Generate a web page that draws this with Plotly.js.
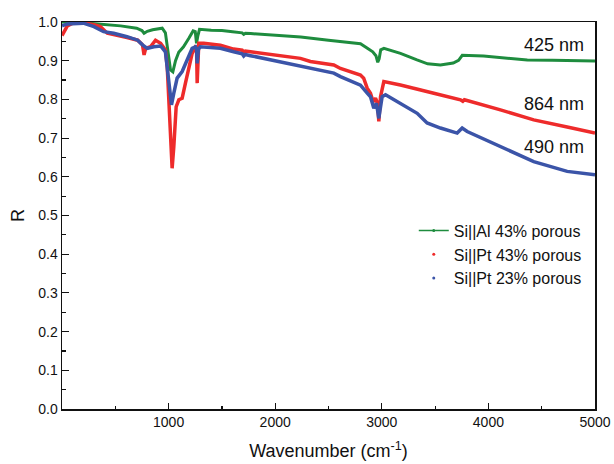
<!DOCTYPE html>
<html>
<head>
<meta charset="utf-8">
<script src="https://cdn.plot.ly/plotly-3.0.1.min.js"></script>
<style>html,body{margin:0;padding:0;background:#fff;}#chart{width:614px;height:464px;}</style>
</head>
<body>
<div id="chart"></div>
<script>
// Si||Al 43% porous (425 nm)
const alX = [0,100,250,400,550,700,750,770,800,850,900,940,970,995,1018,1040,1065,1095,1140,1190,1230,1250,1262,1275,1290,1400,1500,1600,1690,1705,1720,1770,2000,2240,2500,2700,2800,2865,2915,2945,2962,2975,2990,3020,3175,3330,3430,3550,3670,3720,3755,3955,4200,4365,4600,4800,5000];
const alY = [1.0,1.0,0.997,0.994,0.99,0.984,0.978,0.971,0.976,0.98,0.982,0.984,0.972,0.928,0.876,0.871,0.90,0.922,0.936,0.958,0.977,0.975,0.945,0.965,0.981,0.979,0.978,0.975,0.972,0.968,0.971,0.970,0.966,0.961,0.953,0.946,0.944,0.932,0.923,0.913,0.896,0.905,0.928,0.932,0.919,0.902,0.892,0.889,0.894,0.901,0.914,0.912,0.907,0.902,0.901,0.900,0.899];

// Si||Pt 43% porous (864 nm)
const pt43X = [0,20,50,100,200,300,360,425,520,610,710,755,770,785,830,877,925,970,987,1002,1018,1033,1049,1071,1096,1127,1158,1190,1221,1252,1262,1268,1275,1283,1330,1486,1610,1690,1705,1720,1768,1925,2115,2237,2330,2550,2612,2800,2830,2863,2894,2919,2941,2960,2972,2988,3019,3175,3488,3738,3760,3775,4113,4425,4750,5000];
const pt43Y = [0.965,0.975,0.99,0.997,0.998,0.993,0.988,0.971,0.966,0.96,0.953,0.941,0.915,0.932,0.936,0.953,0.945,0.928,0.885,0.799,0.696,0.622,0.678,0.781,0.799,0.803,0.842,0.885,0.919,0.936,0.935,0.842,0.90,0.945,0.945,0.94,0.93,0.927,0.922,0.925,0.923,0.917,0.91,0.906,0.898,0.889,0.88,0.863,0.855,0.829,0.816,0.794,0.803,0.79,0.743,0.807,0.846,0.837,0.816,0.799,0.795,0.799,0.773,0.747,0.728,0.713];

// Si||Pt 23% porous (490 nm)
const pt23X = [0,50,200,300,390,485,610,710,755,800,862,925,970,995,1018,1027,1049,1080,1127,1174,1221,1252,1262,1268,1280,1299,1486,1610,1690,1705,1720,1768,2115,2330,2550,2612,2800,2863,2894,2925,2950,2972,3003,3035,3175,3332,3425,3550,3707,3754,3801,4113,4425,4739,5000];
const pt23Y = [0.99,0.995,0.997,0.988,0.975,0.971,0.962,0.953,0.941,0.932,0.936,0.938,0.923,0.859,0.799,0.786,0.816,0.855,0.872,0.902,0.932,0.936,0.93,0.893,0.93,0.936,0.932,0.923,0.918,0.912,0.916,0.913,0.893,0.881,0.868,0.859,0.837,0.816,0.807,0.777,0.79,0.751,0.807,0.812,0.79,0.764,0.739,0.726,0.713,0.726,0.717,0.678,0.639,0.614,0.605];

const seriesNames = ['Si||Al 43% porous','Si||Pt 43% porous','Si||Pt 23% porous'];
const thicknessLabels = ['425 nm','864 nm','490 nm'];
const labelY = [0.941,0.788,0.677];
const xTickVals = [1000,2000,3000,4000,5000];
const yTickVals = [0,0.1,0.2,0.3,0.4,0.5,0.6,0.7,0.8,0.9,1.0];

const cGreen = '#1e8c3e', cRed = '#ee2b2b', cBlue = '#3b54a8';

const traces = [
  {x: alX, y: alY, mode: 'lines', line: {color: cGreen, width: 3}, showlegend: false, hoverinfo: 'skip'},
  {x: pt43X, y: pt43Y, mode: 'lines', line: {color: cRed, width: 3.5}, showlegend: false, hoverinfo: 'skip'},
  {x: pt23X, y: pt23Y, mode: 'lines', line: {color: cBlue, width: 3.5}, showlegend: false, hoverinfo: 'skip'},
  {x: [null], y: [null], name: seriesNames[0], mode: 'lines+markers', line: {color: cGreen, width: 1.5}, marker: {color: cGreen, size: 3}},
  {x: [null], y: [null], name: seriesNames[1], mode: 'markers', marker: {color: cRed, size: 3}},
  {x: [null], y: [null], name: seriesNames[2], mode: 'markers', marker: {color: cBlue, size: 3}}
];

const font = {family: '"Liberation Sans", Arial, sans-serif', color: '#111'};

const layout = {
  width: 614, height: 464,
  margin: {l: 61.5, r: 18.5, t: 22, b: 54.5},
  paper_bgcolor: '#fff', plot_bgcolor: '#fff',
  font: Object.assign({size: 14}, font),
  showlegend: true,
  legend: {x: 0.66, y: 0.505, xanchor: 'left', yanchor: 'top', bgcolor: 'rgba(0,0,0,0)',
           font: Object.assign({size: 16}, font), tracegroupgap: 0},
  xaxis: {
    range: [0, 5000], tickvals: xTickVals, ticktext: xTickVals.map(String),
    ticks: 'inside', ticklen: 6, tickwidth: 1.2, tickcolor: '#111',
    minor: {dtick: 500, ticks: 'inside', ticklen: 3.5, tickwidth: 1.2, tickcolor: '#111', showgrid: false},
    showline: true, linecolor: '#111', linewidth: 1.5, mirror: true,
    showgrid: false, zeroline: false,
    tickfont: Object.assign({size: 14}, font),
    title: {text: 'Wavenumber (cm<sup>-1</sup>)', font: Object.assign({size: 18}, font), standoff: 15}
  },
  yaxis: {
    range: [0, 1.0], tickvals: yTickVals, ticktext: yTickVals.map(v => v.toFixed(1)),
    ticks: 'inside', ticklen: 7, tickwidth: 1.2, tickcolor: '#111',
    minor: {dtick: 0.05, ticks: 'inside', ticklen: 4, tickwidth: 1.2, tickcolor: '#111', showgrid: false},
    showline: true, linecolor: '#111', linewidth: 1.5, mirror: true,
    showgrid: false, zeroline: false,
    tickfont: Object.assign({size: 14}, font),
    title: {text: 'R', font: Object.assign({size: 18}, font), standoff: 9}
  },
  annotations: thicknessLabels.map((t, i) => ({
    text: t, x: 4920, y: labelY[i], xref: 'x', yref: 'y', xanchor: 'right', yanchor: 'middle',
    showarrow: false, font: Object.assign({size: 18}, font)
  }))
};

Plotly.newPlot('chart', traces, layout, {staticPlot: true, displayModeBar: false});
</script>
</body>
</html>
